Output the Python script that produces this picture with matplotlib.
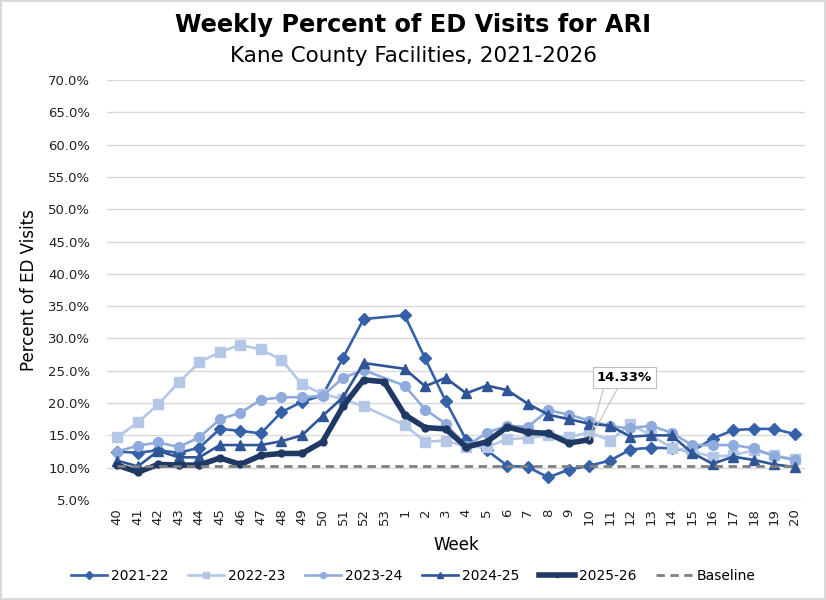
import numpy as np
import matplotlib
matplotlib.use("Agg")
import matplotlib.pyplot as plt

weeks = ["40", "41", "42", "43", "44", "45", "46", "47", "48", "49", "50", "51", "52", "53",
         "1", "2", "3", "4", "5", "6", "7", "8", "9", "10", "11", "12", "13", "14", "15",
         "16", "17", "18", "19", "20"]
nan = np.nan
s2021_22 = [12.5, 12.3, 12.7, 12.3, 13.1, 16.0, 15.7, 15.3, 18.6, 20.2, 21.2, 27.0, 33.0, nan,
            33.6, 26.9, 20.3, 14.3, 12.7, 10.3, 10.1, 8.5, 9.7, 10.3, 11.1, 12.8, 13.1, 13.0,
            12.5, 14.5, 15.8, 16.0, 16.0, 15.2]
s2022_23 = [14.7, 17.0, 19.8, 23.2, 26.3, 27.9, 29.0, 28.3, 26.7, 22.9, 21.4, 20.6, 19.5, nan,
            16.6, 14.0, 14.2, 13.2, 13.2, 14.4, 14.6, 15.0, 14.7, 15.5, 14.2, 16.7, 15.0, 13.1,
            12.5, 11.7, 11.9, 12.7, 11.9, 11.3]
s2023_24 = [12.5, 13.4, 13.9, 13.2, 14.7, 17.5, 18.5, 20.5, 20.9, 20.9, 21.1, 23.9, 25.1, nan,
            22.7, 19.0, 16.8, 13.3, 15.4, 16.5, 16.3, 18.9, 18.2, 17.3, 16.4, 16.1, 16.5, 15.4,
            13.5, 13.5, 13.5, 13.0, 11.8, 11.2]
s2024_25 = [11.1, 10.2, 12.6, 11.6, 11.6, 13.5, 13.5, 13.5, 14.1, 15.0, 18.0, 20.9, 26.2, nan,
            25.3, 22.6, 23.9, 21.5, 22.7, 22.0, 19.9, 18.2, 17.5, 16.8, 16.5, 14.8, 15.0, 15.0,
            12.3, 10.6, 11.7, 11.2, 10.5, 10.1]
s2025_26 = [10.4, 9.3, 10.5, 10.4, 10.4, 11.5, 10.5, 11.9, 12.2, 12.2, 14.0, 19.5, 23.6, 23.3,
            18.2, 16.2, 16.0, 13.2, 14.0, 16.3, 15.5, 15.3, 13.8, 14.33, nan, nan, nan, nan,
            nan, nan, nan, nan, nan, nan]
baseline = [10.3] * len(weeks)
series_labels = ["2021-22", "2022-23", "2023-24", "2024-25", "2025-26"]

plt.rcParams['font.family'] = ['DejaVu Sans']
fig = plt.figure(figsize=(8.26, 6.0), dpi=100)
fig.patch.set_edgecolor('#D9D9D9')
fig.patch.set_linewidth(1.5)
ax = fig.add_axes([0.1295, 0.1667, 0.845, 0.70])

x = np.arange(len(weeks))

def plot_series(vals, **kw):
    v = np.array(vals, dtype=float)
    m = ~np.isnan(v)
    return ax.plot(x[m], v[m], **kw)[0]

styles = [
    dict(color='#3461A8', marker='D', markersize=6.5, lw=1.9),
    dict(color='#B4C7E7', marker='s', markersize=7, lw=1.9),
    dict(color='#8FAADC', marker='o', markersize=7, lw=1.9),
    dict(color='#2F5597', marker='^', markersize=7.5, lw=1.9),
    dict(color='#1F3864', marker='o', markersize=5, lw=4.0),
]
handles = []
for vals, lab, st in zip([s2021_22, s2022_23, s2023_24, s2024_25, s2025_26], series_labels, styles):
    handles.append(plot_series(vals, label=lab, **st))
handles.append(ax.plot(x, baseline, color='#808080', lw=2.0, ls=(0, (3, 2)), label='Baseline')[0])

ax.set_xlim(-0.5, len(weeks) - 0.5)
ax.set_ylim(5, 70)
ax.set_yticks(np.arange(5, 70.1, 5))
ax.set_yticklabels([f"{t:.1f}%" for t in np.arange(5, 70.1, 5)], fontsize=9.5, color='#222222')
ax.set_xticks(x)
ax.set_xticklabels(weeks, rotation=90, fontsize=9.5, color='#222222')
ax.tick_params(axis='both', length=0, pad=6)
ax.tick_params(axis='y', pad=12)
ax.grid(axis='y', color='#D9D9D9', lw=1.0)
ax.set_axisbelow(True)
for sp in ax.spines.values():
    sp.set_visible(False)

ax.set_xlabel("Week", fontsize=12, labelpad=8)
ax.set_ylabel("Percent of ED Visits", fontsize=12, labelpad=7)

fig.text(0.5, 0.958, "Weekly Percent of ED Visits for ARI", ha='center', va='center',
         fontsize=17.3, fontweight='bold')
fig.text(0.5, 0.907, "Kane County Facilities, 2021-2026", ha='center', va='center', fontsize=15.5)

# Callout for last value
last_i = int(np.where(~np.isnan(np.array(s2025_26)))[0][-1])
last_v = s2025_26[last_i]
for dx in (11, 22):
    ax.annotate("", xy=(last_i, last_v), xytext=(dx, 40), textcoords='offset points',
                arrowprops=dict(arrowstyle='-', color='#BFBFBF', lw=0.8, shrinkA=0, shrinkB=0))
ax.annotate(f"{last_v:.2f}%", xy=(last_i, last_v), xytext=(25, 45), textcoords='offset points',
            ha='center', va='center', fontsize=9.5, fontweight='bold',
            bbox=dict(boxstyle='square,pad=0.3', fc='white', ec='#BFBFBF', lw=0.8))

fig.legend(handles=handles, loc='center', bbox_to_anchor=(0.5, 0.04), ncol=6, frameon=False,
           fontsize=10, handlelength=2.6, columnspacing=1.4, handletextpad=0.3, markerscale=0.6)

fig.savefig("out.png", dpi=100, edgecolor=fig.get_edgecolor())
